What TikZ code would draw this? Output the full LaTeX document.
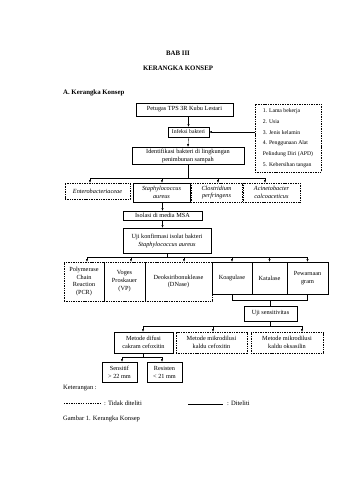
\documentclass[tikz,border=0pt]{standalone}
\usepackage{fontspec}
\setmainfont{Liberation Serif}
\usetikzlibrary{arrows.meta,positioning}
\newcommand{\pxu}{0.6176mm}
\tikzset{
  every node/.style={font=\fontsize{11}{14}\selectfont},
  sz/.style 2 args={minimum width=#1*\pxu, minimum height=#2*\pxu},
  box/.style={draw, line width=0.7pt, align=center, inner sep=1pt},
  dashbox/.style={box, dash pattern=on 1.8pt off 1.2pt},
  listbox/.style={dashbox, align=left, inner xsep=3pt, font=\fontsize{10}{18.8}\selectfont},
  italbox/.style={font=\itshape\fontsize{11}{13.5}\selectfont},
  heading/.style={font=\bfseries\fontsize{12}{14}\selectfont},
  plain/.style={anchor=west, inner sep=0pt, font=\fontsize{11.5}{14}\selectfont},
  arrow/.style={-{Latex[length=1.6mm,width=1.3mm]}, line width=0.6pt},
  link/.style={line width=0.6pt},
}
\begin{document}
\begin{tikzpicture}[x=\pxu, y=-\pxu]
\fill[white] (0,0) rectangle (340,480);
\useasboundingbox (0,0) rectangle (340,480);
% judul
\node[heading] (bab) at (178,53) {BAB III};
\node[heading] (judul) at (178,68) {KERANGKA KONSEP};
\node[heading, plain, font=\bfseries\fontsize{12}{14}\selectfont] (subjudul) at (63,93) {A. Kerangka Konsep};
% alur atas
\node[box, sz={97}{13}] (petugas) at (184.5,109.5) {Petugas TPS 3R Kubu Lestari};
\node[box, sz={41}{10}, font=\fontsize{10}{12}\selectfont] (infeksi) at (188.5,132) {Infeksi bakteri};
\node[listbox, sz={66}{68}] (faktor) at (288,138) {1. Lama bekerja\\2. Usia\\3. Jenis kelamin\\4. Penggunaan Alat\\Pelindung Diri (APD)\\5. Kebersihan tangan};
\node[box, sz={112}{17}] (identifikasi) at (188,155.5) {Identifikasi bakteri di lingkungan\\penimbunan sampah};
\draw[arrow] (petugas.south -| infeksi.north) -- (infeksi.north);
\draw[arrow] (faktor.west |- infeksi.east) -- (infeksi.east);
\draw[arrow] (infeksi.south) -- (identifikasi.north);
% bakteri
\node[dashbox, sz={65}{16}, italbox] (entero) at (97.5,191) {Enterobacteriaceae};
\node[box, line width=1pt, sz={57}{19}, italbox] (staph) at (161.5,192.5) {Staphylococcus\\aureus};
\node[dashbox, sz={51}{19}, italbox] (clos) at (216.5,192.5) {Clostridium\\perfringens};
\node[dashbox, sz={57}{19}, italbox] (acin) at (271.5,192.5) {Acinetobacter\\calcoaceticus};
\coordinate (bar1) at (188,178);
\draw[link] (identifikasi.south) -- (bar1);
\draw[link] (90,178) -- (265,178);
\foreach \n/\x in {entero/90,staph/162,clos/218,acin/265}
  \draw[arrow] (\x,178) -- (\x,178 |- \n.north);
% isolasi
\node[box, sz={79}{9}] (isolasi) at (162.5,215.5) {Isolasi di media MSA};
\node[box, sz={88}{25}] (ujikonf) at (167,240.5) {Uji konfirmasi isolat bakteri\\\textit{Staphylococcus aureus}};
\draw[arrow] (staph.south -| isolasi.north) -- (isolasi.north);
\draw[arrow] (isolasi.south) -- (isolasi.south |- ujikonf.north);
% uji konfirmasi
\node[dashbox, sz={40}{39}] (pcr) at (84,281.5) {Polymerase\\Chain\\Reaction\\(PCR)};
\node[dashbox, sz={41}{39}] (vp) at (124.5,281.5) {Voges\\Proskauer\\(VP)};
\node[dashbox, sz={67}{39}] (dnase) at (178.5,281.5) {Deoksiribonuklease\\(DNase)};
\node[box, sz={40}{32}] (koag) at (232,278) {Koagulase};
\node[box, sz={35}{32}] (kat) at (269.5,278) {Katalase};
\node[box, sz={41}{32}] (pew) at (307.5,278) {Pewarnaan\\gram};
\draw[link] (ujikonf.south) -- (167,257);
\draw[link] (87,257) -- (307.5,257);
\foreach \n/\x in {pcr/87,vp/131,dnase/184,koag/232,kat/269.5,pew/307.5}
  \draw[arrow] (\x,257) -- (\x,257 |- \n.north);
% uji sensitivitas
\node[box, sz={53}{15}] (ujisens) at (270.5,313.5) {Uji sensitivitas};
\draw[link] (koag.south) -- ++(0,6) -| (pew.south);
\draw[link] (ujisens.north) -- ++(0,-6);
\node[box, sz={59}{21}] (difusi) at (143.5,342.5) {Metode difusi\\cakram cefoxitin};
\node[dashbox, sz={71}{21}] (mikrocef) at (211.5,342.5) {Metode mikrodilusi\\kaldu cefoxitin};
\node[dashbox, sz={72}{21}] (mikrooks) at (287,342.5) {Metode mikrodilusi\\kaldu oksasilin};
\draw[link] (ujisens.south) -- (270.5,326);
\draw[link] (143,326) -- (302,326);
\foreach \n/\x in {difusi/143,mikrocef/213,mikrooks/302}
  \draw[arrow] (\x,326) -- (\x,326 |- \n.north);
% hasil
\node[box, sz={35}{20}] (sensitif) at (119.5,372) {Sensitif\\> 22 mm};
\node[box, sz={35}{20}] (resisten) at (164.5,372) {Resisten\\< 21 mm};
\draw[link] (difusi.south) -- (143.5,357);
\draw[link] (122,357) -- (162,357);
\foreach \n/\x in {sensitif/122,resisten/162}
  \draw[arrow] (\x,357) -- (\x,357 |- \n.north);
% keterangan
\node[plain] (ket) at (63,388) {Keterangan :};
\coordinate (l1a) at (64,403);
\coordinate (l1b) at (100,403);
\coordinate (l2a) at (188,404);
\coordinate (l2b) at (223,404);
\draw[line width=0.6pt, dash pattern=on 2.4pt off 1.8pt] (l1a) -- (l1b);
\draw[link] (l2a) -- (l2b);
\node[plain] (tdk) at (104,403) {: Tidak diteliti};
\node[plain] (dtl) at (227,403) {: Diteliti};
\node[plain] (gambar) at (63,419) {Gambar 1. Kerangka Konsep};
\end{tikzpicture}
\end{document}
